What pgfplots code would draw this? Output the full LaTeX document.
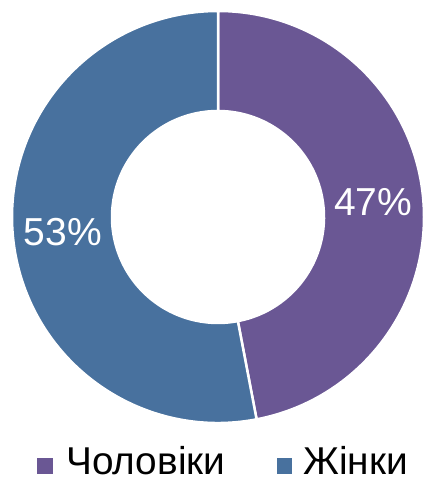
\documentclass[border=0pt]{standalone}
\usepackage{pgfplots}
\usepackage{pgfplotstable}
\pgfplotsset{compat=1.18}
\usepackage{fontspec}
\setmainfont{Liberation Sans}
\definecolor{purp}{HTML}{6A5794}
\definecolor{blu}{HTML}{48719E}
\pgfplotstableread[col sep=comma]{
label,value
Чоловіки,47
Жінки,53
}\data
\pgfplotstablegetelem{0}{value}\of\data \edef\va{\pgfplotsretval}
\pgfplotstablegetelem{1}{value}\of\data \edef\vb{\pgfplotsretval}
\pgfplotstablegetelem{0}{label}\of\data \edef\la{\pgfplotsretval}
\pgfplotstablegetelem{1}{label}\of\data \edef\lb{\pgfplotsretval}
\begin{document}
\begin{tikzpicture}
\pgfmathsetmacro{\aa}{90-3.6*\va}
\pgfmathsetmacro{\am}{90-1.8*\va}
\pgfmathsetmacro{\bb}{\aa-3.6*\vb}
\pgfmathsetmacro{\bm}{\aa-1.8*\vb}
\begin{axis}[x=1pt,y=1pt,xmin=0,xmax=436,ymin=0,ymax=490,hide axis,clip=false,scale only axis]
\path (axis cs:0,0) rectangle (axis cs:436,490);
\path[fill=purp,draw=white,line width=2.5pt,line join=miter]
  (axis cs:218,273) ++(90:206pt) arc[start angle=90,end angle=\aa,radius=206pt]
  -- ++(\aa+180:100pt) arc[start angle=\aa,end angle=90,radius=106pt] -- cycle;
\path[fill=blu,draw=white,line width=2.5pt,line join=miter]
  (axis cs:218,273) ++(\aa:206pt) arc[start angle=\aa,end angle=\bb,radius=206pt]
  -- ++(\bb+180:100pt) arc[start angle=\bb,end angle=\aa,radius=106pt] -- cycle;
\path (axis cs:218,273) ++(\am:156pt) node[white,font=\fontsize{39}{45}\selectfont]{\va\%};
\path (axis cs:218,273) ++(\bm:156pt) node[white,font=\fontsize{39}{45}\selectfont]{\vb\%};
% legend
\fill[purp] (axis cs:37,16) rectangle (axis cs:53,32);
\node[anchor=base west,inner sep=0pt,font=\fontsize{38.8}{45}\selectfont] at (axis cs:66,15) {\la};
\fill[blu] (axis cs:277,16) rectangle (axis cs:292,32);
\node[anchor=base west,inner sep=0pt,font=\fontsize{38.8}{45}\selectfont] at (axis cs:303,15) {\lb};
\end{axis}
\end{tikzpicture}
\end{document}
